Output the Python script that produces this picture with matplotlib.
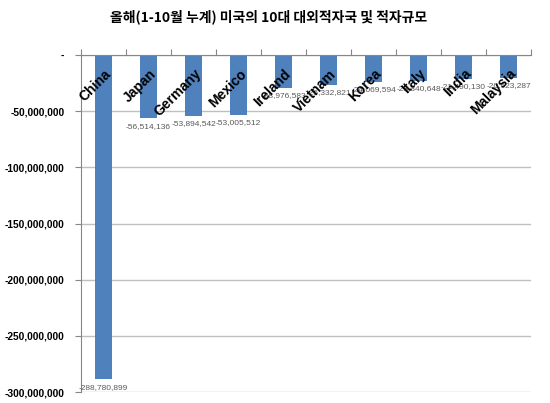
from matplotlib import pyplot as plt
import numpy as np

countries = ['China', 'Japan', 'Germany', 'Mexico', 'Ireland',
             'Vietnam', 'Korea', 'Italy', 'India', 'Malaysia']
deficit = [-288780899, -56514136, -53894542, -53005512, -28976583,
           -26332821, -24069594, -23340648, -21490130, -20623287]
yticks = [0, -50000000, -100000000, -150000000, -200000000, -250000000, -300000000]
title = '올해(1-10월 누계) 미국의 10대 대외적자국 및 적자규모'

plt.rcParams['font.family'] = ['Liberation Sans', 'DejaVu Sans']

fig = plt.figure(figsize=(5.5, 4.03), dpi=100)
ax = fig.add_axes([81/550, 1-392/403, 450/550, 337/403])

x = np.arange(len(countries))
ax.bar(x, deficit, width=0.38, color='#4F81BD', zorder=2)
ax.set_xlim(-0.5, len(countries)-0.5)
ax.set_ylim(-300000000, 0)

# grid + axes
ax.set_yticks(yticks)
ax.set_yticklabels(['-' if v == 0 else '{:,}'.format(v) for v in yticks],
                   fontweight='bold', fontsize=7.4)
ax.grid(axis='y', color='#BFBFBF', lw=1, zorder=0)
ax.tick_params(axis='y', length=4, color='#868686', pad=8)
for s in ['right', 'bottom']:
    ax.spines[s].set_visible(False)
ax.spines['left'].set_color('#868686')
ax.spines['top'].set_color('#868686')
ax.xaxis.tick_top()
ax.set_xticks(np.arange(len(countries)+1) - 0.5)
ax.set_xticklabels([])
ax.tick_params(axis='x', length=4, color='#868686', direction='out')

# value labels under the bars
for i, v in enumerate(deficit):
    ax.annotate('{:,}'.format(v), (i, v), xytext=(0, -3), textcoords='offset points',
                ha='center', va='top', fontsize=6, color='#595959', zorder=3)

# category labels, rotated, hanging below the zero line
for i, c in enumerate(countries):
    ax.annotate(c, (i, 0), xytext=(4, -12), textcoords='offset points',
                ha='right', va='center', rotation=45, rotation_mode='anchor',
                fontsize=10, fontweight='bold', color='black', zorder=4)

fig.text(269/550, 1-17/403, title, ha='center', va='center', fontsize=10,
         fontweight='bold', family=['Noto Sans CJK KR', 'DejaVu Sans'])

fig.savefig('out.png', dpi=100)
